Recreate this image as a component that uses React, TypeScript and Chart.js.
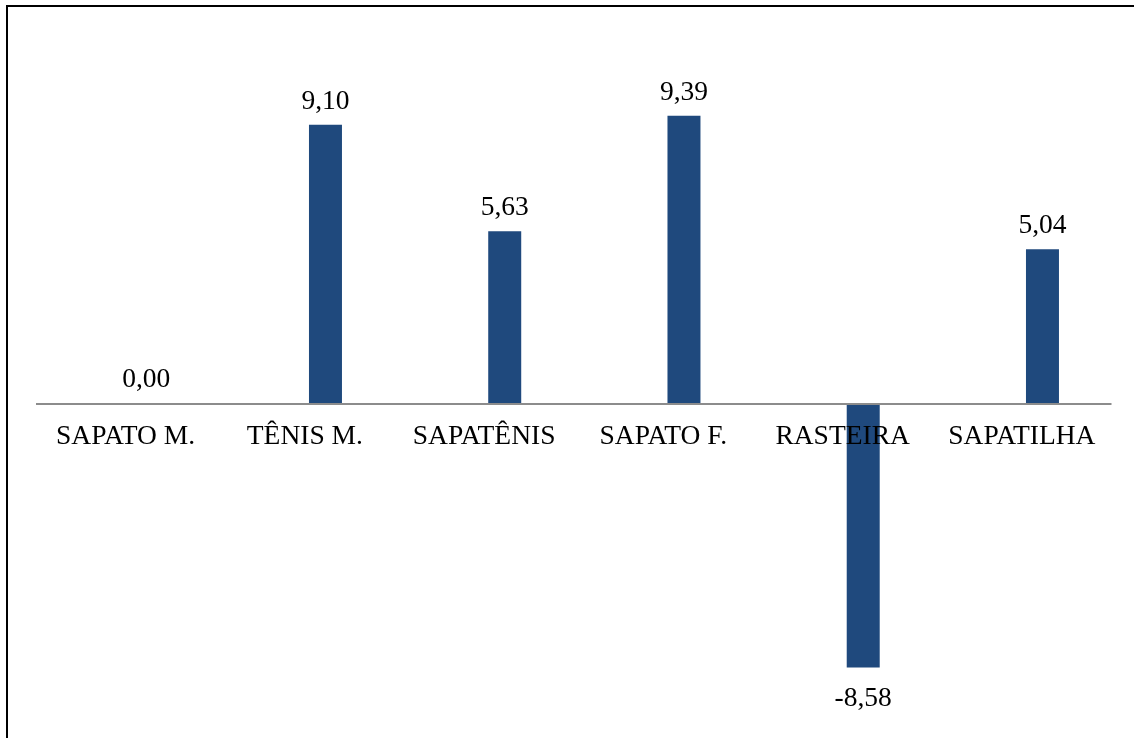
import React, { useEffect, useRef } from "react";
import { Chart, registerables } from "chart.js";

Chart.register(...registerables);

// Variação por tipo de calçado
const categories = ["SAPATO M.", "TÊNIS M.", "SAPATÊNIS", "SAPATO F.", "RASTEIRA", "SAPATILHA"];
const values = [0.0, 9.1, 5.63, 9.39, -8.58, 5.04];
// empty companion series keeps the bars shifted inside each category slot
const spacerValues = [null, null, null, null, null, null];
const yMin = -10;
const yMax = 10;

const WIDTH = 1134;
const HEIGHT = 738;
const FONT = '27.5px "Liberation Serif", "Times New Roman", serif';

const fmt = (v: number) => v.toFixed(2).replace(".", ",");

const labelPlugin = {
  id: "barLabels",
  afterDatasetsDraw(chart: any) {
    const { ctx, chartArea, scales } = chart;
    const xScale = scales.x;
    const yScale = scales.y;
    const zeroY = yScale.getPixelForValue(0);

    ctx.save();
    // zero line
    ctx.strokeStyle = "#8c8c8c";
    ctx.lineWidth = 2;
    ctx.beginPath();
    ctx.moveTo(chartArea.left, zeroY);
    ctx.lineTo(chartArea.right, zeroY);
    ctx.stroke();

    ctx.fillStyle = "#000000";
    ctx.font = FONT;
    ctx.textAlign = "center";
    ctx.textBaseline = "alphabetic";

    // value labels
    const meta = chart.getDatasetMeta(1);
    meta.data.forEach((bar: any, i: number) => {
      const v = values[i];
      const text = fmt(v);
      if (v >= 0) {
        ctx.fillText(text, bar.x, Math.min(bar.y, zeroY) - (v === 0 ? 17.5 : 16));
      } else {
        ctx.fillText(text, bar.x, bar.y + 38.5);
      }
    });

    // category labels
    categories.forEach((c, i) => {
      const x = xScale.getPixelForValue(i);
      ctx.fillText(c, x, zeroY + 39.5);
    });
    ctx.restore();
  },
};

export default function App() {
  const canvasRef = useRef<HTMLCanvasElement | null>(null);

  useEffect(() => {
    const canvas = canvasRef.current;
    if (!canvas) return;
    const chart = new Chart(canvas, {
      type: "bar",
      data: {
        labels: categories,
        datasets: [
          {
            label: "",
            data: spacerValues,
            backgroundColor: "rgba(0,0,0,0)",
          },
          {
            label: "Variação",
            data: values,
            backgroundColor: "#1F497D",
            borderWidth: 0,
          },
        ],
      },
      options: {
        responsive: false,
        animation: false,
        devicePixelRatio: 1,
        datasets: {
          bar: {
            categoryPercentage: 0.4596,
            barPercentage: 0.801,
            skipNull: false,
          },
        },
        layout: {
          padding: { left: 36, right: 22.5, top: 97, bottom: 27 },
        },
        plugins: {
          legend: { display: false },
          tooltip: { enabled: false },
          title: { display: false },
        },
        scales: {
          x: {
            display: false,
            offset: true,
            grid: { display: false, offset: true },
          },
          y: {
            display: false,
            min: yMin,
            max: yMax,
            grid: { display: false },
          },
        },
      },
      plugins: [labelPlugin],
    });
    return () => chart.destroy();
  }, []);

  return (
    <div
      style={{
        position: "fixed",
        left: 0,
        top: 0,
        width: WIDTH,
        height: HEIGHT,
        overflow: "hidden",
        background: "#ffffff",
      }}
    >
      <canvas
        ref={canvasRef}
        width={WIDTH}
        height={HEIGHT}
        style={{ display: "block", width: WIDTH, height: HEIGHT }}
      />
      <div
        style={{
          position: "absolute",
          left: 6,
          top: 5,
          width: WIDTH + 100,
          height: HEIGHT + 100,
          border: "2px solid #000000",
          boxSizing: "border-box",
          pointerEvents: "none",
        }}
      />
    </div>
  );
}
